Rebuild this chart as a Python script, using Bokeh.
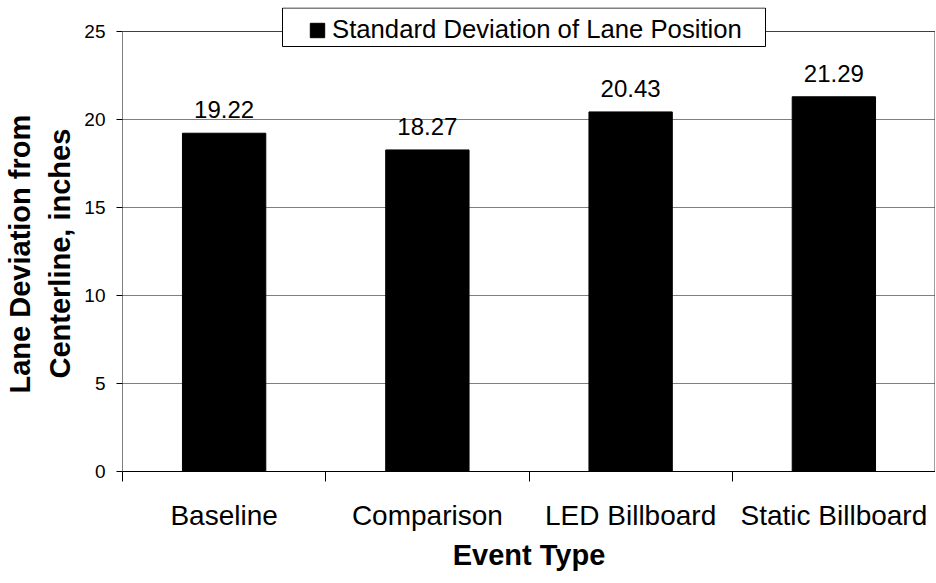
from bokeh.plotting import figure
from bokeh.models import (Range1d, FixedTicker, ColumnDataSource, Legend, LegendItem, Title,
                          BoxAnnotation)
from bokeh.core.properties import value
from bokeh.embed import file_html
from bokeh.resources import INLINE

categories = ["Baseline", "Comparison", "LED Billboard", "Static Billboard"]
sdlp = [19.22, 18.27, 20.43, 21.29]
series_name = "Standard Deviation of Lane Position"
y_title_lines = ["Lane Deviation from", "Centerline, inches"]
x_title = "Event Type"
y_ticks = [0, 5, 10, 15, 20, 25]
y_max = 25

FONT = "Liberation Sans"

# layout (pixels): plotting area 0..25 spans 440 px; extra headroom above for the legend box
FRAME_L, FRAME_W = 122, 813
AREA_H = 440
HEAD = 24
FRAME_T = 31 - HEAD
y_top = y_max * (AREA_H + HEAD) / AREA_H
n = len(categories)

def px_to_x(px):
    return (px - FRAME_L) / FRAME_W * n

def py_to_y(py):
    return (FRAME_T + AREA_H + HEAD - py) / (AREA_H + HEAD) * y_top

xs = [i + 0.5 for i in range(n)]
src = ColumnDataSource(dict(x=xs, top=sdlp, lbl=["%.2f" % v for v in sdlp], cat=categories))

p = figure(frame_width=FRAME_W, frame_height=AREA_H + HEAD, output_backend="svg",
           toolbar_location=None, x_range=Range1d(0, n), y_range=Range1d(0, y_top),
           min_border_left=FRAME_L, min_border_right=0, min_border_top=FRAME_T,
           min_border_bottom=0)
p.background_fill_color = "white"
p.border_fill_color = "white"
p.outline_line_color = None

p.ygrid.ticker = FixedTicker(ticks=y_ticks)
p.ygrid.grid_line_color = "#7f7f7f"
p.ygrid.grid_line_width = 1
p.xgrid.visible = False

# plot-area borders (left axis line and right border) up to the top value only
p.segment(x0=[0, n], y0=[0, 0], x1=[0, n], y1=[y_max, y_max],
          line_color=["black", "#404040"], line_width=[1, 2])
p.segment(x0=[0], y0=[y_max], x1=[n], y1=[y_max], line_color="#404040", line_width=1)

r = p.vbar(x="x", top="top", width=0.41, source=src, fill_color="black", line_color="black")
p.text(x="x", y="top", text="lbl", source=src, text_align="center", text_baseline="bottom",
       y_offset=-15, text_font=value(FONT), text_font_size="24px", text_color="black")

# y axis
p.yaxis.ticker = FixedTicker(ticks=y_ticks)
p.yaxis.axis_line_color = None
p.yaxis.major_tick_out = 6
p.yaxis.major_tick_in = 0
p.yaxis.minor_tick_out = 0
p.yaxis.minor_tick_in = 0
p.yaxis.major_label_standoff = 11
p.yaxis.major_label_text_font = FONT
p.yaxis.major_label_text_font_size = "19px"
p.yaxis.major_label_text_color = "black"
p.yaxis.major_tick_line_color = "black"

# y axis title: two centred lines on the 0..25 area (innermost line added first)
def y_title(text, offset, standoff):
    return Title(text=text, align="left", offset=offset, standoff=standoff,
                 text_font=FONT, text_font_style="bold", text_font_size="29px",
                 text_color="black")

p.add_layout(y_title(y_title_lines[1], 93, 12), "left")
p.add_layout(y_title(y_title_lines[0], 78, 0), "left")

# x axis
p.xaxis.ticker = FixedTicker(ticks=xs, minor_ticks=list(range(n + 1)))
p.xaxis.major_label_overrides = {x: c for x, c in zip(xs, categories)}
p.xaxis.major_tick_out = 0
p.xaxis.major_tick_in = 0
p.xaxis.minor_tick_out = 10
p.xaxis.minor_tick_in = 0
p.xaxis.minor_tick_line_color = "black"
p.xaxis.axis_line_color = "black"
p.xaxis.major_label_standoff = 18
p.xaxis.major_label_text_font = FONT
p.xaxis.major_label_text_font_size = "28px"
p.xaxis.major_label_text_color = "black"
p.xaxis.axis_label = x_title
p.xaxis.axis_label_text_font = FONT
p.xaxis.axis_label_text_font_style = "bold"
p.xaxis.axis_label_text_font_size = "29px"
p.xaxis.axis_label_text_color = "black"
p.xaxis.axis_label_standoff = 5

# legend frame (white box with black border), then the legend entry itself
box = BoxAnnotation(left=px_to_x(282), right=px_to_x(765),
                    top=py_to_y(7.5), bottom=py_to_y(46),
                    fill_color="white", fill_alpha=1.0,
                    line_color="black", line_width=1, line_alpha=1.0)
p.add_layout(box)

legend = Legend(items=[LegendItem(label=series_name, renderers=[r])],
                location=(308 - FRAME_L, AREA_H + HEAD - 37), orientation="vertical",
                label_text_font=FONT, label_text_font_size="25.7px", label_text_color="black",
                glyph_width=18, glyph_height=18, label_standoff=6, padding=5, margin=0,
                spacing=0, label_height=29,
                border_line_color=None, background_fill_alpha=0.0)
p.add_layout(legend, "center")

open("out.html", "w").write(file_html(p, INLINE))
